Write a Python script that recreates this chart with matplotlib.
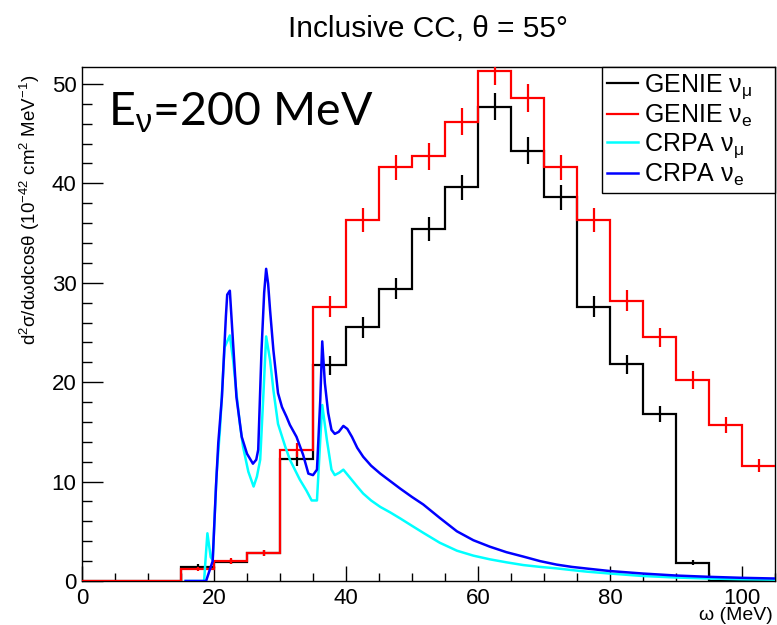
import matplotlib
matplotlib.use("Agg")
import matplotlib.pyplot as plt
import numpy as np
from matplotlib.ticker import MultipleLocator

plt.rcParams['font.family'] = ['Liberation Sans', 'DejaVu Sans']
plt.rcParams['mathtext.fontset'] = 'custom'
plt.rcParams['mathtext.rm'] = 'Liberation Sans'
plt.rcParams['mathtext.it'] = 'Liberation Sans:italic'
plt.rcParams['mathtext.sf'] = 'Liberation Sans'

# ---------------- data ----------------
bin_edges = [0, 5, 10, 15, 20, 25, 30, 35, 40, 45, 50, 55, 60, 65, 70, 75, 80, 85, 90, 95, 100, 105]
genie_numu = [0, 0, 0, 1.44, 1.94, 2.8, 12.3, 21.7, 25.5, 29.4, 35.4, 39.6, 47.7, 43.3, 38.6, 27.6, 21.8, 16.8, 1.84, 0, 0]
genie_numu_err = [0, 0, 0, 0.24, 0.28, 0.33, 0.70, 0.93, 1.01, 1.08, 1.19, 1.26, 1.38, 1.32, 1.24, 1.05, 0.93, 0.82, 0.27, 0, 0]
genie_nue = [0, 0, 0, 1.2, 2.0, 2.8, 13.2, 27.6, 36.3, 41.6, 42.7, 46.2, 51.3, 48.6, 41.6, 36.3, 28.2, 24.5, 20.2, 15.7, 11.6]
genie_nue_err = [0, 0, 0, 0.22, 0.28, 0.33, 0.73, 1.05, 1.2, 1.29, 1.31, 1.36, 1.43, 1.39, 1.29, 1.2, 1.06, 0.99, 0.9, 0.79, 0.68]

crpa_nue_x = [15.7, 18.8, 19.3, 19.8, 20.3, 20.65, 21.2, 21.8, 22.0, 22.4, 22.8, 23.4, 24.2, 25.0, 25.9,
              26.4, 26.7, 27.2, 27.6, 27.9, 28.2, 28.5, 29.0, 29.7, 30.3, 31.0, 31.5, 32.5, 33.5, 34.3,
              35.0, 35.6, 36.1, 36.4, 36.8, 37.3, 37.8, 38.3, 38.9, 39.6, 40.2, 40.9, 41.7, 42.6, 43.8,
              45.2, 46.7, 48.2, 50.0, 51.7, 54.2, 56.8, 59.3, 61.8, 64.3, 66.9, 69.4, 71.9, 74.2,
              76.5, 80, 85, 90, 95, 100, 105]
crpa_nue_y = [0, 0, 1.0, 2.0, 9.5, 13.9, 18.5, 26.6, 28.8, 29.2, 24.9, 18.5, 14.5, 12.8, 11.8,
              12.2, 13.2, 23.2, 29.0, 31.4, 29.9, 27.2, 23.2, 18.9, 17.5, 16.5, 15.7, 14.5, 12.7, 10.8,
              10.65, 11.2, 18.2, 24.1, 19.9, 16.9, 15.2, 14.8, 15.0, 15.6, 15.3, 14.5, 13.4, 12.5, 11.6,
              10.8, 10.05, 9.3, 8.45, 7.7, 6.35, 5.0, 4.1, 3.45, 2.9, 2.45, 2.0, 1.65, 1.42,
              1.25, 1.0, 0.75, 0.55, 0.42, 0.32, 0.25]

crpa_numu_x = [15.7, 18.5, 18.7, 19.0, 19.5, 19.8, 20.4, 20.9, 21.6, 22.4, 22.9, 23.4, 23.9, 24.4, 25.2,
               26.0, 26.5, 27.0, 27.5, 27.9, 28.5, 29.0, 29.7, 30.8, 31.5, 33.0, 34.0, 34.8, 35.6, 36.1,
               36.4, 37.1, 37.8, 38.3, 39.0, 39.6, 40.9, 41.7, 42.6, 43.8, 45.2, 46.7, 48.2, 50.0, 51.7,
               54.2, 56.8, 59.3, 61.8, 64.3, 66.9, 69.4, 71.9, 74.2, 76.5, 80, 85, 90, 95, 100, 105]
crpa_numu_y = [0, 0, 2.0, 4.8, 2.4, 2.1, 10.8, 15.2, 23.5, 24.7, 22.2, 18.9, 15.9, 13.5, 11.0,
               9.5, 10.5, 12.2, 19.0, 24.6, 22.2, 19.2, 15.8, 13.5, 12.2, 10.2, 9.1, 8.1, 8.1, 14.2,
               17.7, 14.2, 11.2, 10.65, 10.9, 11.2, 10.15, 9.5, 8.8, 8.1, 7.45, 6.9, 6.3, 5.55, 4.85,
               3.85, 3.05, 2.55, 2.18, 1.88, 1.6, 1.42, 1.27, 1.1, 0.94, 0.75, 0.5, 0.35, 0.25, 0.18, 0.14]

labels = [r'GENIE $\mathrm{\nu}_{\mathrm{\mu}}$', r'GENIE $\mathrm{\nu}_{\mathrm{e}}$',
          r'CRPA $\mathrm{\nu}_{\mathrm{\mu}}$', r'CRPA $\mathrm{\nu}_{\mathrm{e}}$']
title = 'Inclusive CC, θ = 55°'
xlabel = 'ω (MeV)'
ylabel = r'd$^{2}$σ/dωdcosθ (10$^{-42}$ cm$^{2}$ MeV$^{-1}$)'

# ---------------- figure ----------------
W, H = 777, 625
fig = plt.figure(figsize=(W / 100, H / 100), dpi=100)
ax = fig.add_axes([82 / W, 1 - 581 / H, (775 - 82) / W, (581 - 67) / H])

edges = np.array(bin_edges, dtype=float)
centers = 0.5 * (edges[:-1] + edges[1:])


def draw_hist(vals, errs, color, label):
    vals = np.array(vals, dtype=float)
    errs = np.array(errs, dtype=float)
    ax.stairs(vals, edges, baseline=None, color=color, lw=1.6, label=label, zorder=3)
    m = vals > 0
    ax.errorbar(centers[m], vals[m], yerr=errs[m], fmt='none', ecolor=color,
                elinewidth=1.6, capsize=0, zorder=3)


draw_hist(genie_numu, genie_numu_err, 'black', labels[0])
draw_hist(genie_nue, genie_nue_err, '#ff0000', labels[1])
ax.plot(crpa_numu_x, crpa_numu_y, color='#00ffff', lw=1.8, label=labels[2], zorder=4)
ax.plot(crpa_nue_x, crpa_nue_y, color='#0000ff', lw=1.8, label=labels[3], zorder=5)

ax.set_xlim(0, 105)
ax.set_ylim(0, 51.7)

ax.xaxis.set_major_locator(MultipleLocator(20))
ax.xaxis.set_minor_locator(MultipleLocator(5))
ax.yaxis.set_major_locator(MultipleLocator(10))
ax.yaxis.set_minor_locator(MultipleLocator(2))
ax.tick_params(axis='x', which='major', direction='in', length=11, width=1, labelsize=16, pad=5)
ax.tick_params(axis='x', which='minor', direction='in', length=5.5, width=1)
ax.tick_params(axis='y', which='major', direction='in', length=15, width=1, labelsize=16, pad=4)
ax.tick_params(axis='y', which='minor', direction='in', length=7.5, width=1)
ax.tick_params(top=False, right=False, which='both')
for s in ax.spines.values():
    s.set_linewidth(1.0)

leg = ax.legend(loc='upper right', bbox_to_anchor=(0.750, 0.5, 0.25, 0.5), mode='expand',
                borderaxespad=0, fontsize=18, frameon=True, fancybox=False, framealpha=1,
                edgecolor='black', handlelength=1.25, handletextpad=0.25, labelspacing=0.08,
                borderpad=0.2)
leg.get_frame().set_linewidth(1.0)

fig.text(428 / W, 1 - 37 / H, title, ha='center', va='baseline', fontsize=21.5)
fig.text(773 / W, 1 - 620 / H, xlabel, ha='right', va='baseline', fontsize=14)
fig.text(30 / W, 1 - 75 / H, ylabel, ha='center', va='top', rotation=90, fontsize=13.5)

ax.text(0.037, 0.887, r'E$_{\mathrm{\nu}}$=200 MeV', transform=ax.transAxes, ha='left',
        va='baseline', fontsize=33.5, family=['Lato', 'DejaVu Sans'], zorder=6)

fig.savefig('out.png', dpi=100)
